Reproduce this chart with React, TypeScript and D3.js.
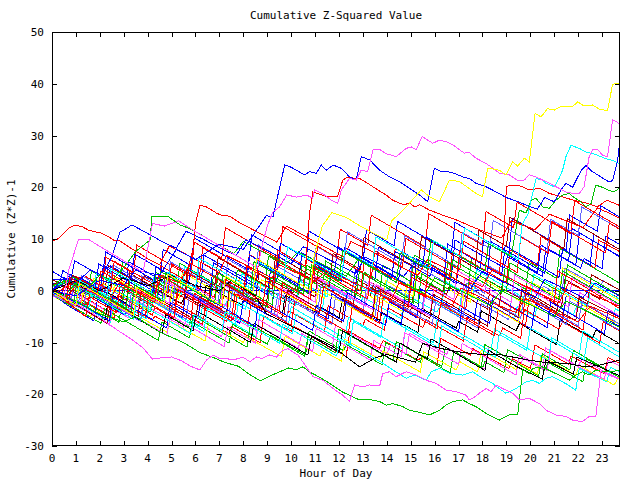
import React from "react";
import * as d3 from "d3";

type P = [number, number];

const title = "Cumulative Z-Squared Value";
const xLabel = "Hour of Day";
const yLabel = "Cumulative (Z*Z)-1";
const xTicks = [0,1,2,3,4,5,6,7,8,9,10,11,12,13,14,15,16,17,18,19,20,21,22,23];
const yTicks = [-30,-20,-10,0,10,20,30,40,50];
const xMax = 23.75;

const RED = "#ff0000", GRN = "#00c000", BLU = "#0000ff", MAG = "#ff50ff", CYN = "#00ffff",
  DRD = "#a00000", YEL = "#ffff00", BLK = "#000000", PER = "#6464ff";

// traced prominent series
const yellowTop: P[] = [[0,0],[1,-2.8],[1.15,1.4],[2.3,-1.7],[3.4,-4.7],[3.55,0.6],[4.7,-2.5],[4.85,3.2],[6,0.1],[7.1,-2.9],[7.25,2.8],[8.4,-0.3],[8.55,6.2],[9.7,3.1],[10.8,0.1],[10.95,6.5],[11.3,12.5],[11.7,15.1],[12.3,14.2],[12.7,13],[13.4,11.2],[14,9.8],[14.2,13.5],[14.5,14.8],[14.81,16.2],[15.44,19.5],[15.78,18.2],[16.2,17.2],[16.62,21.4],[17.04,21.1],[17.73,18.8],[18,18.2],[18.22,23.7],[18.7,23.3],[18.98,22.4],[19.26,24.9],[19.47,24.1],[19.75,25.6],[19.96,24.9],[20.2,34.3],[20.45,33.6],[20.72,35.2],[21,34.9],[21.28,35.6],[21.77,35.6],[21.98,36.5],[22.25,35.7],[22.6,35.9],[22.88,35.1],[23.23,34.8],[23.44,39.9],[23.72,40.1]];
const magentaTop: P[] = [[0,0],[0.5,-1.2],[0.7,4],[1.1,9.8],[1.5,10],[2.2,8],[3,5.8],[3.8,3.6],[4,8],[4.2,13],[4.7,12.5],[5.3,13.5],[5.9,11.7],[6.6,9.8],[7.3,7.9],[8,6],[8.6,4.4],[8.8,9],[9,12.5],[9.23,15.2],[9.52,16.2],[9.81,18.5],[10.23,18.1],[10.65,18.5],[10.9,17.9],[10.98,19.5],[11.4,18.5],[11.68,17.5],[11.95,16.9],[12.1,19.5],[12.44,21.7],[12.72,21.4],[12.93,23.3],[13.2,23],[13.42,27.2],[13.7,27.3],[13.97,26.5],[14.39,25.9],[14.81,27.5],[15.02,27.8],[15.23,27.3],[15.48,29.8],[15.71,29.1],[15.92,28.5],[16.2,29.1],[16.48,28.8],[16.76,28.2],[16.96,27.5],[17.24,26.6],[17.45,26.7],[17.73,25.6],[18.15,24.6],[18.43,23.7],[18.71,22.7],[19.12,22.4],[19.47,21.3],[19.75,21.4],[19.96,22.4],[20.24,22],[20.51,21.4],[20.79,20.8],[21.07,20.1],[21.49,19.1],[21.77,18.8],[22.05,18.8],[22.25,20.1],[22.46,25.9],[22.6,27.2],[22.81,27.3],[23.02,26.2],[23.23,25.9],[23.44,33],[23.58,32.7],[23.72,32.3]];
const blueTop: P[] = [[0,0],[1,-1],[2,2],[3,1],[3.5,4],[4.5,3],[5.2,8],[6,6],[7,9],[8,8],[8.96,14.5],[9.24,14.3],[9.73,24.3],[9.94,24],[10.22,23.3],[10.56,22.4],[10.77,23],[11.05,22.7],[11.26,24.3],[11.47,23.3],[11.75,24.3],[12.1,23.65],[12.44,22],[12.72,21.4],[12.93,25.9],[13.28,25.3],[13.7,23.3],[14.11,22],[14.53,21.1],[14.95,19.8],[15.37,18.5],[15.71,17.2],[15.99,23.65],[16.27,23],[16.55,23],[16.83,22.7],[17.17,22],[17.45,21.7],[17.73,20.75],[18.15,20.1],[18.57,19.1],[19,18],[19.5,17.2],[20,16.2],[20.3,15.8],[20.6,18],[21,17.2],[21.33,19.8],[21.49,20.75],[21.77,20],[22.12,23.2],[22.33,24.2],[22.54,23.2],[22.88,22.2],[23.3,21],[23.44,21.3],[23.65,25.2],[23.72,28]];
const redHigh: P[] = [[0,0],[0.6,-1.7],[0.75,2.5],[1.9,-0.6],[2.05,3.8],[3.2,0.7],[4.3,-2.3],[4.45,3.1],[5.6,0],[5.75,5.4],[6.9,2.3],[8,-0.7],[8.15,4.6],[9.3,1.5],[9.45,7.8],[10.6,4.7],[10.77,15],[10.91,19.1],[11.47,18.2],[11.95,18.3],[12.16,21.4],[12.37,22],[12.65,21.7],[12.86,21.7],[13.2,20.75],[13.62,19.5],[13.97,18.5],[14.25,17.5],[14.53,16.9],[14.74,16.6],[14.95,17],[15.16,16.2],[15.37,16.6],[15.78,15.6],[16.34,14.6],[16.9,13.7],[17.5,12.5],[18.2,11.2],[18.8,10.2],[19.2,13.5],[19.6,12.8],[20.2,11.8],[20.8,14.8],[21.5,13.5],[22.2,12.2],[22.8,16],[23.3,15],[23.72,14]];
const redStart: P[] = [[0,9.5],[0.28,10.1],[0.56,11.4],[0.7,12.1],[0.97,12.7],[1.25,12.4],[1.53,11.7],[1.81,11.4],[2.09,11.1],[2.37,10.4],[2.58,9.8],[2.78,9.8],[3.2,8.5],[3.6,7.4],[4,6.2],[4.5,5],[4.9,8.6],[5.5,7.3],[6,6],[6.5,4.8],[7,3.5],[7.3,6.8],[8,5.2],[8.6,3.8],[9.2,2.5],[9.5,5],[10.2,3.5],[11,1.8],[11.5,4],[12.3,2.2],[13,0.8],[13.6,-0.5],[14.2,-1.8],[14.5,1.5],[15.3,-0.2],[16,-1.8],[16.7,-3.2],[17.1,0.5],[17.8,-1],[18.6,-2.7],[19.4,-4.2],[19.8,-1.5],[20.5,-3],[21.3,-4.6],[22,-6],[22.5,-3],[23.2,-4.3],[23.72,-5.4]];
const magentaLow: P[] = [[0,0],[1,-2.5],[2,-5.2],[2.7,-7.5],[3.3,-9.3],[3.8,-11],[4.2,-13.2],[4.5,-13],[5,-12.8],[5.4,-13.5],[5.8,-14.6],[6.18,-15.3],[6.46,-13.4],[6.74,-12.4],[7,-13.1],[7.3,-13.1],[7.57,-13.4],[7.98,-12.8],[8.27,-13.7],[8.55,-12.8],[8.76,-13.1],[9.1,-12.4],[9.38,-12.8],[9.66,-11.5],[9.87,-11.2],[10.3,-12.5],[10.6,-14.5],[10.91,-16.6],[11.33,-17.3],[11.75,-18.9],[12.16,-20.2],[12.44,-21.4],[12.65,-18.2],[13,-18.6],[13.28,-18.2],[13.7,-18.4],[13.83,-16],[14.11,-15.65],[14.39,-16.6],[14.81,-15.65],[15.23,-16.3],[15.65,-17.3],[16.06,-17.9],[16.48,-19.2],[16.9,-19.5],[17.32,-20.2],[17.45,-21.1],[17.59,-20.8],[17.87,-19.8],[18.15,-18.9],[18.36,-19.5],[18.57,-18.2],[18.84,-18.9],[19.26,-19.8],[19.54,-21.1],[19.96,-20.8],[20.38,-21.8],[20.66,-23.1],[21.07,-24],[21.49,-24.3],[21.77,-25],[22.18,-25.3],[22.46,-24.3],[22.74,-24.3],[22.95,-15.6],[23.3,-16.3],[23.72,-17.1]];
const greenLow: P[] = [[0,0],[1,-2],[2,-4.5],[3,-6],[3.5,-5],[4.5,-8],[5.5,-10],[6.2,-12],[6.7,-12.8],[7.2,-13.8],[7.8,-14.6],[8.2,-16],[8.7,-17.4],[9.1,-16.5],[9.5,-15.7],[9.9,-14.9],[10.2,-15.3],[10.49,-14.7],[10.77,-15.7],[11.19,-16.7],[11.61,-17.9],[12.16,-19.6],[12.58,-20.5],[12.86,-21.1],[13.28,-21],[13.7,-21.4],[13.98,-22.1],[14.25,-21.8],[14.67,-22.4],[14.95,-23.1],[15.29,-23.4],[15.78,-24],[16.2,-23.1],[16.48,-22.1],[16.76,-21.4],[17.17,-21.1],[17.45,-21.8],[17.73,-22.4],[18.15,-23.7],[18.57,-24.7],[18.7,-25],[19.12,-24],[19.47,-24],[19.68,-15.3],[19.96,-16],[20.1,-15],[20.5,-14.7],[20.9,-15.65],[21.35,-16.6],[21.63,-17.3],[21.9,-16.3],[22.18,-15.65],[22.46,-16.3],[22.74,-15.3],[23.02,-15.65],[23.44,-15.65],[23.72,-15.3]];
const cyanLow: P[] = [[0,0],[1,-2.8],[1.15,0.6],[2.3,-2.5],[3.4,-5.5],[3.55,-2.2],[4.7,-5.3],[5.8,-8.3],[5.95,-4.6],[7.1,-7.7],[7.25,-4],[8.4,-7.1],[9.5,-10.1],[9.65,-6.5],[10.8,-9.6],[11.9,-12.6],[12.05,-9.2],[13.2,-12.3],[13.83,-14],[14.25,-15.3],[14.81,-16.9],[15.16,-16.3],[15.65,-17.3],[15.86,-15.65],[16.2,-15],[16.62,-15.95],[17.17,-16.3],[17.59,-15.65],[18,-16.9],[18.42,-17.9],[18.7,-18.9],[18.98,-19.8],[19.4,-18.9],[19.82,-17.6],[20.1,-17.3],[20.38,-17.9],[20.66,-16.9],[20.93,-16.6],[21.5,-18],[21.9,-19.2],[22.05,-15],[22.7,-16.5],[23.2,-17.6],[23.35,-14.8],[23.72,-15.6]];
const cyanTop: P[] = [[0,0],[1,-2.8],[1.15,2],[2.3,-1.1],[2.45,4.2],[3.6,1.1],[4.7,-1.9],[4.85,3.6],[6,0.5],[6.15,6.3],[7.3,3.2],[8.4,0.2],[8.55,5.8],[9.7,2.7],[9.85,8.5],[11,5.4],[12.1,2.4],[12.25,7.9],[13.4,4.8],[13.55,10.4],[14.7,7.3],[15.8,4.3],[15.95,9.7],[17.1,6.6],[17.25,12.1],[18.4,9],[19.5,6],[19.65,12.8],[19.9,14.8],[20.03,17.5],[20.24,21.7],[20.5,21.4],[20.66,20.75],[21,20.1],[21.2,21.7],[21.35,23.3],[21.49,25.9],[21.7,28.1],[22.05,27.5],[22.33,26.8],[22.6,26.5],[22.81,26.2],[23.1,25.6],[23.44,25.2],[23.72,24.6]];
const greenTop: P[] = [[0,0],[0.9,-2.5],[1.05,1.8],[2.2,-1.3],[3.3,-4.3],[3.45,1.1],[4.6,-2],[4.75,3.5],[5.9,0.4],[7,-2.6],[7.15,2.9],[8.3,-0.2],[8.45,5.6],[9.6,2.5],[10.7,-0.5],[10.85,5],[12,1.9],[12.15,7.7],[13.3,4.6],[14.4,1.6],[14.55,7.3],[15.7,4.2],[15.85,9.9],[17,6.8],[18.1,3.8],[18.25,9.1],[19.2,6.6],[19.47,13.7],[19.54,15.6],[19.82,15],[20.03,17.5],[20.24,17.9],[20.52,16.2],[20.8,15.95],[21.07,17.5],[21.35,18.5],[21.63,18.8],[21.77,18.2],[22.12,17.2],[22.33,16.2],[22.54,16.9],[22.74,20.4],[22.95,20.1],[23.23,19.5],[23.5,19.1],[23.72,19.8]];
const redRight: P[] = [[0,0],[1,-2.8],[1.15,1.5],[2.3,-1.6],[3.4,-4.6],[3.55,0.5],[4.7,-2.6],[5.8,-5.6],[5.95,-0.5],[7.1,-3.6],[7.25,2.2],[8.4,-0.9],[9.5,-3.9],[9.65,1.5],[10.8,-1.6],[10.95,4.5],[12.1,1.4],[13.2,-1.6],[13.35,4.9],[14.5,1.8],[15.6,-1.2],[15.75,5.2],[16.9,2.1],[17.05,7.8],[18.2,4.7],[18.7,3.4],[18.9,10.5],[19,20.1],[19.12,20.4],[19.5,20.4],[19.96,19.5],[20.4,19.8],[20.8,18.8],[21.3,18.2],[21.8,17.5],[22.3,17],[22.8,16.2],[23.2,17.5],[23.72,16.5]];
const blackLow: P[] = [[0,0],[1,2],[2,0],[3,2.5],[4,1],[5,3],[6,1],[7,0],[7.5,2],[8.5,-1],[8.96,-4.4],[10.35,-7.6],[11.75,-10.8],[12.86,-14.7],[13.5,-13],[14,-12.3],[14.55,-13],[15.2,-13.8],[15.5,-10.2],[16.3,-11.2],[17,-11.8],[17.9,-12.3],[18.7,-12.3],[19.8,-13.3],[20.66,-13.9],[21.5,-14],[22.3,-14.7],[22.88,-14.4],[23.72,-13.4]];
const greenEarly: P[] = [[0,0],[0.5,-1.2],[1,1.5],[1.5,0.5],[2,3],[2.5,2],[3,4.5],[3.5,7.6],[4.1,9.8],[4.18,14.3],[4.87,14.3],[5.36,12.7],[5.71,12.1],[6.13,11.1],[6.6,9.8],[7.1,8.5],[7.6,7.2],[8,9.5],[8.6,8],[9.2,6.6],[9.8,5.2],[10.3,7.5],[11,5.8],[11.7,4.2],[12.3,2.8],[12.8,6],[13.5,4.3],[14.2,2.6],[15,0.8],[15.6,-0.6],[16,2.5],[16.8,0.6],[17.6,-1.2],[18.3,-2.8],[18.8,0],[19.5,-1.6],[20.3,-3.4],[21,-5],[21.5,-2],[22.3,-3.8],[23,-5.4],[23.72,-7]];
const blueEarly: P[] = [[0,0],[0.5,2.5],[1,1.5],[1.6,4],[2.1,3],[2.5,6.5],[2.85,11.4],[3,11.7],[3.34,12.7],[3.59,12.1],[4.1,10.8],[4.6,9.5],[5.2,8.2],[5.6,11.5],[6.3,10],[7,8.3],[7.7,6.8],[8.1,9.8],[8.8,8.2],[9.4,6.8],[10,5.2],[10.5,8.5],[11.2,6.9],[12,5],[12.7,3.3],[13.1,6.5],[13.9,4.6],[14.7,2.8],[15.2,5.5],[16,3.8],[16.8,2],[17.5,0.4],[18,3.8],[18.7,2.1],[19.5,0.3],[20.2,-1.3],[20.6,2.2],[21.4,0.5],[22.2,-1.3],[22.7,1.5],[23.72,-1]];
const redEarly: P[] = [[0,0],[0.6,-1.5],[1,1],[1.8,-0.5],[2.4,-2],[2.8,1.5],[3.5,0],[4.2,-1.5],[4.6,3],[5.3,1.5],[5.7,4.5],[5.9,8],[6,13],[6.18,16.5],[6.46,16.2],[6.88,15],[7.08,14.6],[7.43,14.4],[7.9,13],[8.4,11.8],[8.9,10.6],[9.4,9.4],[9.8,12.5],[10.4,11],[11,9.5],[11.6,8],[12.2,6.5],[12.5,9.5],[13.2,8],[13.9,6.3],[14.6,4.6],[15.3,3],[15.7,6],[16.4,4.5],[17.2,2.6],[18,0.8],[18.4,4],[19.1,2.5],[19.8,0.8],[20.5,-0.8],[21.2,-2.4],[21.6,1.5],[22.4,-0.2],[23.1,-1.8],[23.72,-3]];
const zeroLine: P[] = [[0,0],[23.72,0]];

// background series
const bg01: P[] = [[0,-0.8],[0.4,-1.6],[0.5,0.9],[0.9,0.2],[1.3,-1.1],[1.7,-2.2],[2.3,-3.9],[2.45,-1],[2.9,-2.1],[3.5,-3.8],[4.2,-5.7],[4.3,-4.9],[4.9,-6.4],[5.05,-2.2],[5.6,-3.6],[6.2,-5.1],[6.8,-6.9],[7.4,-8.3],[7.5,-6.9],[8.1,-8.5],[8.7,-10],[8.85,-4.8],[9.5,-6.6],[10,-7.8],[10.1,-6.8],[10.8,-8.7],[11.6,-10.9],[12.3,-12.7],[12.45,-7.9],[13.2,-9.9],[13.7,-11.1],[13.85,-9.6],[14.6,-11.6],[15.3,-13.4],[15.5,-12.8],[16.1,-14.3],[16.25,-9.2],[17,-11.1],[17.5,-12.5],[17.6,-11.2],[18.4,-13.3],[19.1,-15],[19.25,-13.1],[20,-15],[20.2,-10.5],[21,-12.6],[21.6,-14.2],[21.7,-12.6],[22.5,-14.6],[23.1,-16],[23.25,-12.9],[23.72,-14]];
const bg02: P[] = [[0,0],[0.6,-1.5],[1.2,-3],[1.3,-2.1],[2,-3.9],[2.8,-6.1],[2.95,-1.1],[3.6,-2.8],[4.1,-4.1],[4.2,-3],[5,-5.2],[5.7,-7],[5.8,-5.8],[6.6,-8],[7.4,-10.1],[7.55,-6.5],[8.2,-8.2],[9,-10.3],[9.15,-8.6],[9.9,-10.6],[10.6,-12.4],[10.75,-7.8],[11.4,-9.5],[12.2,-11.6],[12.3,-10.4],[13,-12.2],[13.8,-14.3],[13.95,-10],[14.7,-12],[15.4,-13.8],[15.5,-12.5],[16.3,-14.6],[16.45,-10.9],[17.2,-12.8],[18,-14.9],[18.1,-13.7],[18.9,-15.8],[19.05,-11.4],[19.8,-13.3],[20.6,-15.4],[20.75,-13.9],[21.5,-15.8],[22.2,-17.6],[22.35,-13.2],[23,-14.9],[23.72,-16.7]];
const bg03: P[] = [[0,1.5],[0.3,0.8],[0.45,3.9],[1.1,2.2],[1.8,0.4],[2.3,-0.9],[2.4,2.7],[3.1,0.9],[3.2,5.6],[3.9,3.8],[4.6,2],[5.4,-0.1],[5.55,1.8],[6.2,0.1],[6.35,6.9],[7,5.2],[7.8,3.1],[8.5,1.3],[8.65,3.8],[9.4,1.9],[9.5,7.3],[10.3,5.2],[10.9,3.6],[11.05,5.5],[11.8,3.6],[12.6,1.5],[12.7,4.1],[13.5,2],[13.65,8.4],[14.3,6.7],[15.1,4.6],[15.8,2.8],[15.95,4.8],[16.7,2.9],[16.85,9.8],[17.5,8.1],[18.3,6],[18.9,4.5],[19.05,6.6],[19.8,4.6],[20.5,2.8],[20.65,8.2],[21.3,6.5],[22.1,4.4],[22.25,6.2],[23,4.3],[23.15,10.5],[23.72,9]];
const bg04: P[] = [[0,-0.5],[0.7,-2.3],[0.85,-0.2],[1.6,-2.1],[2.4,-4.2],[2.5,-3.4],[3.2,-5.2],[3.35,-1.4],[4,-3.1],[4.9,-5.4],[5.5,-7],[5.65,-5.1],[6.4,-7],[7.1,-8.9],[7.25,-4.4],[7.9,-6.1],[8.6,-7.9],[8.7,-6.9],[9.5,-9],[10.3,-11.1],[10.45,-8.3],[11.2,-10.2],[11.7,-11.5],[11.85,-6.6],[12.5,-8.3],[13.3,-10.4],[14,-12.2],[14.15,-10.5],[14.8,-12.2],[14.95,-8.2],[15.7,-10.2],[16.5,-12.3],[16.6,-11.2],[17.3,-13],[18.1,-15.1],[18.25,-10.8],[19,-12.8],[19.6,-14.3],[19.7,-13],[20.5,-15.1],[20.65,-11.1],[21.4,-13],[22,-14.6],[22.15,-13.2],[23,-15.4],[23.72,-17]];
const bg05: P[] = [[0,0.4],[0.5,-0.9],[1,-2.2],[1.15,2.6],[1.8,0.9],[2.5,-0.9],[2.6,0.3],[3.4,-1.8],[4.1,-3.6],[4.25,-1.8],[5,-3.7],[5.15,2.2],[5.8,0.5],[6.5,-1.3],[7.2,-3.1],[7.35,-1.6],[8.1,-3.6],[8.25,1.6],[8.9,-0.1],[9.7,-2.2],[9.85,0],[10.6,-2],[11.3,-3.8],[11.45,1.3],[12.1,-0.4],[12.9,-2.5],[13,-1.2],[13.8,-3.3],[14.6,-5.4],[14.75,-0.6],[15.4,-2.3],[16.1,-4.1],[16.25,-2.9],[17,-4.9],[17.15,0.2],[17.9,-1.8],[18.6,-3.6],[19.3,-5.4],[19.45,-3.1],[20.2,-5],[20.35,-0.8],[21.1,-2.8],[21.8,-4.6],[21.95,-2.8],[22.7,-4.8],[23.4,-6.6],[23.55,-3.5],[23.72,-3.9]];
const bg06: P[] = [[0,2.2],[0.6,0.6],[1.3,-1.2],[1.45,1.4],[2.2,-0.6],[2.35,4.8],[3,3.1],[3.7,1.3],[3.85,2.9],[4.6,1],[5.4,-1.1],[5.55,3.8],[6.2,2.1],[6.9,0.3],[7.05,1.7],[7.8,-0.3],[8.5,-2.1],[8.65,3.4],[9.3,1.7],[10.1,-0.4],[10.2,0.9],[11,-1.2],[11.15,4.6],[11.8,2.9],[12.6,0.8],[13.3,-1],[13.45,1.3],[14.2,-0.7],[14.9,-2.5],[15.05,3.1],[15.7,1.4],[16.5,-0.7],[16.6,0.7],[17.4,-1.4],[18.2,-3.5],[18.35,1.7],[19,0],[19.7,-1.8],[19.85,0.6],[20.6,-1.4],[21.3,-3.2],[21.45,2.2],[22.1,0.5],[22.9,-1.6],[23.05,0.2],[23.72,-1.5]];
const bg07: P[] = [[0,-0.9],[0.8,-3],[1.6,-5.1],[1.75,-3.6],[2.5,-5.6],[2.65,-2.4],[3.3,-4.1],[4.1,-6.2],[4.8,-8],[4.95,-5.9],[5.7,-7.9],[6.4,-9.7],[6.55,-6.2],[7.2,-7.9],[8,-10],[8.1,-8.8],[8.9,-10.9],[9.6,-12.7],[9.75,-8.8],[10.4,-10.5],[11.2,-12.6],[11.3,-11.5],[12.1,-13.6],[12.25,-9.4],[13,-11.4],[13.7,-13.2],[13.85,-11.6],[14.6,-13.6],[15.4,-15.7],[15.55,-11.8],[16.2,-13.5],[16.9,-15.3],[17.05,-13.7],[17.8,-15.7],[17.95,-11.4],[18.6,-13.1],[19.4,-15.2],[19.5,-14],[20.3,-16.1],[20.45,-12.5],[21.2,-14.5],[21.9,-16.3],[22.05,-14.4],[22.8,-16.4],[23.5,-18.2],[23.72,-16.6]];
const bg08: P[] = [[0,0.6],[0.6,-1],[0.75,2.1],[1.5,0.1],[2.2,-1.7],[2.35,-0.4],[3.1,-2.4],[3.25,3.1],[3.9,1.4],[4.7,-0.7],[5.4,-2.5],[5.55,-1],[6.3,-3],[6.45,1.1],[7.2,-0.9],[7.9,-2.7],[8.05,-1.5],[8.8,-3.5],[9.6,-5.6],[9.75,-0.9],[10.4,-2.6],[11.1,-4.4],[11.25,-3.2],[12,-5.2],[12.15,-1.6],[12.9,-3.6],[13.7,-5.7],[13.8,-4.2],[14.6,-6.3],[15.3,-8.1],[15.45,-3.4],[16.1,-5.1],[16.9,-7.2],[17,-5.9],[17.8,-8],[17.95,-3.9],[18.7,-5.9],[19.4,-7.7],[19.55,-6.3],[20.3,-8.3],[21.1,-10.4],[21.25,-5.6],[21.9,-7.3],[22.6,-9.1],[22.75,-7.6],[23.72,-10.2]];
const bg09: P[] = [[0,-0.3],[0.5,-1.4],[0.65,3.2],[1.2,1.8],[2,-0.3],[2.1,1.1],[2.9,-1],[3.6,-2.8],[3.75,2.9],[4.4,1.2],[5.1,-0.6],[5.25,0.8],[6,-1.2],[6.15,4.6],[6.8,2.9],[7.6,0.8],[8.3,-1],[8.45,1.3],[9.2,-0.7],[9.35,4.9],[10,3.2],[10.8,1.1],[10.9,2.5],[11.7,0.4],[12.5,-1.7],[12.65,2.9],[13.3,1.2],[14,-0.6],[14.15,0.8],[14.9,-1.2],[15.05,5.3],[15.7,3.6],[16.5,1.5],[17.2,-0.3],[17.35,1.5],[18.1,-0.5],[18.25,4.8],[18.9,3.1],[19.7,1],[20.4,-0.8],[20.55,0.9],[21.3,-1.1],[21.45,4.4],[22.1,2.7],[22.9,0.6],[23.05,1.9],[23.72,0.2]];
const bg10: P[] = [[0,-0.7],[0.9,-3],[1.05,-1.2],[1.8,-3.2],[2.6,-5.3],[2.75,-0.9],[3.4,-2.6],[4.2,-4.7],[4.3,-3.3],[5.1,-5.4],[5.25,-0.6],[5.9,-2.3],[6.6,-4.1],[7.3,-5.9],[7.45,-4.3],[8.2,-6.3],[8.35,-1.3],[9,-3],[9.8,-5.1],[9.9,-3.9],[10.7,-6],[11.4,-7.8],[11.55,-2.9],[12.2,-4.6],[13,-6.7],[13.1,-5.5],[13.9,-7.6],[14.05,-3.3],[14.8,-5.3],[15.5,-7.1],[15.65,-5.6],[16.4,-7.6],[17.2,-9.7],[17.35,-5.2],[18,-6.9],[18.7,-8.7],[18.85,-7.2],[19.6,-9.2],[19.75,-3.6],[20.5,-5.6],[21.2,-7.4],[21.35,-6],[22.1,-8],[22.9,-10.1],[23.05,-6],[23.72,-7.7]];
const bg11: P[] = [[0,1],[0.4,2.2],[1.5,-0.8],[1.65,3.8],[2.8,0.7],[2.95,5.6],[4.1,2.5],[5.2,-0.5],[5.35,5.3],[6.5,2.2],[7.6,-0.8],[7.75,4],[8.9,0.9],[9.05,6.7],[10.2,3.6],[11.3,0.6],[11.45,5.7],[12.6,2.6],[13.7,-0.4],[13.85,4.9],[15,1.8],[15.15,6.9],[16.3,3.8],[17.4,0.8],[17.55,6.4],[18.7,3.3],[19.8,0.3],[19.95,5.5],[21.1,2.4],[21.25,8.2],[22.4,5.1],[23.72,1.5]];
const bg12: P[] = [[0,3.8],[1,1],[1.15,2.6],[2.3,-0.5],[2.45,4.8],[3.6,1.7],[4.7,-1.3],[4.85,3.2],[6,0.1],[6.15,6.3],[7.3,3.2],[8.4,0.2],[8.55,5.6],[9.7,2.5],[10.8,-0.5],[10.95,4.9],[12.1,1.8],[12.25,8.4],[13.4,5.3],[14.5,2.3],[14.65,7.5],[15.8,4.4],[16.9,1.4],[17.05,6.2],[18.2,3.1],[18.35,9.5],[19.5,6.4],[20.6,3.4],[20.75,8.1],[21.9,5],[22.05,11.2],[23.72,6.7]];
const bg13: P[] = [[0,-0.2],[1.2,-2.2],[1.35,1.7],[2.5,-1.4],[3.6,-4.4],[3.75,0.7],[4.9,-2.4],[5.05,3.1],[6.2,0],[7.3,-3],[7.45,1.6],[8.6,-1.5],[9.7,-4.5],[9.85,0.9],[11,-2.2],[11.15,2.5],[12.3,-0.6],[13.4,-3.6],[13.55,1.2],[14.7,-1.9],[15.8,-4.9],[15.95,0.1],[17.1,-3],[17.25,2.3],[18.4,-0.8],[19.5,-3.8],[19.65,1.1],[20.8,-2],[21.9,-5],[22.05,-0.3],[23.2,-3.4],[23.72,-4.8]];
const bg14: P[] = [[0,0],[1.35,-3.1],[2.45,-6.1],[2.6,-2.2],[3.75,-5.3],[3.9,-0.9],[5.05,-4],[6.15,-7],[6.3,-2.8],[7.45,-5.9],[8.55,-8.9],[8.7,-4.5],[9.85,-7.6],[10,-3.1],[11.15,-6.2],[12.25,-9.2],[12.4,-5.1],[13.55,-8.2],[14.65,-11.2],[14.8,-6.9],[15.95,-10],[16.1,-5.6],[17.25,-8.7],[18.35,-11.7],[18.5,-7.4],[19.65,-10.5],[20.75,-13.5],[20.9,-9.1],[22.05,-12.2],[22.2,-7.8],[23.72,-11.9]];
const bg15: P[] = [[0,1.2],[0.6,1.9],[1.7,-1.1],[2.8,-4.1],[2.95,0.3],[4.1,-2.8],[4.25,2.6],[5.4,-0.5],[6.5,-3.5],[6.65,1.8],[7.8,-1.3],[8.9,-4.3],[9.05,0.2],[10.2,-2.9],[10.35,3.6],[11.5,0.5],[12.6,-2.5],[12.75,2.2],[13.9,-0.9],[15,-3.9],[15.15,0.6],[16.3,-2.5],[16.45,3.3],[17.6,0.2],[18.7,-2.8],[18.85,2],[20,-1.1],[21.1,-4.1],[21.25,0.5],[22.4,-2.6],[22.55,3.1],[23.72,0.2]];
const bg16: P[] = [[0,-0.4],[0.5,1.5],[1.6,-1.5],[1.75,2.4],[2.9,-0.7],[4,-3.7],[4.15,1.4],[5.3,-1.7],[5.45,3.6],[6.6,0.5],[7.7,-2.5],[7.85,2.4],[9,-0.7],[9.15,4.6],[10.3,1.5],[11.4,-1.5],[11.55,3.7],[12.7,0.6],[13.8,-2.4],[13.95,2],[15.1,-1.1],[15.25,3.9],[16.4,0.8],[17.5,-2.2],[17.65,3.2],[18.8,0.1],[19.9,-2.9],[20.05,1.7],[21.2,-1.4],[21.35,4.4],[22.5,1.3],[23.72,-1.9]];
const bg17: P[] = [[0,0.6],[0.9,2.6],[2,-0.4],[2.15,4.1],[3.3,1],[4.4,-2],[4.55,4.8],[5.7,1.7],[6.8,-1.3],[6.95,4.2],[8.1,1.1],[8.25,7],[9.4,3.9],[10.5,0.9],[10.65,6.1],[11.8,3],[12.9,0],[13.05,5.5],[14.2,2.4],[14.35,8.2],[15.5,5.1],[16.6,2.1],[16.75,7.6],[17.9,4.5],[19,1.5],[19.15,7.9],[20.3,4.8],[20.45,10.5],[21.6,7.4],[22.7,4.4],[22.85,9.8],[23.72,7.6]];
const bg18: P[] = [[0,-0.6],[0.65,-2.8],[1.75,-5.8],[1.9,-1.6],[3.05,-4.7],[3.2,0.9],[4.35,-2.2],[5.45,-5.2],[5.6,-0.2],[6.75,-3.3],[7.85,-6.3],[8,-1.9],[9.15,-5],[9.3,0.7],[10.45,-2.4],[11.55,-5.4],[11.7,-0.6],[12.85,-3.7],[13.95,-6.7],[14.1,-2.1],[15.25,-5.2],[15.4,0.4],[16.55,-2.7],[17.65,-5.7],[17.8,-1.3],[18.95,-4.4],[20.05,-7.4],[20.2,-2.6],[21.35,-5.7],[21.5,-0.9],[23.72,-6.9]];
const bg19: P[] = [[0,-0.8],[0.95,-3.3],[2.05,-6.3],[2.2,-3.5],[3.35,-6.6],[4.45,-9.6],[4.6,-6],[5.75,-9.1],[5.9,-4.8],[7.05,-7.9],[8.15,-10.9],[8.3,-6.5],[9.45,-9.6],[10.55,-12.6],[10.7,-8.9],[11.85,-12],[12,-7.4],[13.15,-10.5],[14.25,-13.5],[14.4,-9.8],[15.55,-12.9],[16.65,-15.9],[16.8,-11.6],[17.95,-14.7],[18.1,-10.4],[19.25,-13.5],[20.35,-16.5],[20.5,-12.2],[21.65,-15.3],[21.8,-11.5],[23.72,-16.7]];
const bg20: P[] = [[0,0.2],[0.8,-2.2],[0.95,2.3],[2.1,-0.8],[3.2,-3.8],[3.35,0.6],[4.5,-2.5],[5.6,-5.5],[5.75,-0.8],[6.9,-3.9],[7.05,1.5],[8.2,-1.6],[9.3,-4.6],[9.45,-0.4],[10.6,-3.5],[11.7,-6.5],[11.85,-1.2],[13,-4.3],[13.15,0.8],[14.3,-2.3],[15.4,-5.3],[15.55,-1.1],[16.7,-4.2],[17.8,-7.2],[17.95,-2.5],[19.1,-5.6],[19.25,-0.4],[20.4,-3.5],[21.5,-6.5],[21.65,-2],[22.8,-5.1],[23.72,-7.6]];
const bg21: P[] = [[0,-0.9],[1.3,-3.6],[2.4,-6.6],[2.55,-2.5],[3.7,-5.6],[4.8,-8.6],[4.95,-4.7],[6.1,-7.8],[7.2,-10.8],[7.35,-7],[8.5,-10.1],[8.65,-5.6],[9.8,-8.7],[10.9,-11.7],[11.05,-7.3],[12.2,-10.4],[13.3,-13.4],[13.45,-9.6],[14.6,-12.7],[14.75,-8.1],[15.9,-11.2],[17,-14.2],[17.15,-10.2],[18.3,-13.3],[19.4,-16.3],[19.55,-12.3],[20.7,-15.4],[20.85,-11.6],[22,-14.7],[23.1,-17.1],[23.25,-13.4],[23.72,-14.5]];
const bg22: P[] = [[0,0.8],[0.6,1.7],[1.7,-1.3],[1.85,3.4],[3,0.3],[4.1,-2.7],[4.25,2.5],[5.4,-0.6],[5.55,4.6],[6.7,1.5],[7.8,-1.5],[7.95,3.3],[9.1,0.2],[10.2,-2.8],[10.35,1.9],[11.5,-1.2],[11.65,4.2],[12.8,1.1],[13.9,-1.9],[14.05,3.3],[15.2,0.2],[16.3,-2.8],[16.45,1.8],[17.6,-1.3],[17.75,4],[18.9,0.9],[20,-2.1],[20.15,3.1],[21.3,0],[22.4,-3],[22.55,1.6],[23.72,-1.6]];
const bg23: P[] = [[0,0],[0.9,2.5],[2,-0.5],[2.15,5],[3.3,1.9],[3.45,7.1],[4.6,4],[5.7,1],[5.85,6.5],[7,3.4],[8.1,0.4],[8.25,6.9],[9.4,3.8],[9.55,9.2],[10.7,6.1],[11.8,3.1],[11.95,8.5],[13.1,5.4],[14.2,2.4],[14.35,7.6],[15.5,4.5],[15.65,10.4],[16.8,7.3],[17.9,4.3],[18.05,9.6],[19.2,6.5],[20.3,3.5],[20.45,8.8],[21.6,5.7],[21.75,12],[22.9,8.9],[23.72,6.6]];
const bg24: P[] = [[0,-0.5],[1.5,-2.8],[1.65,0.9],[2.8,-2.2],[3.9,-5.2],[4.05,-0.4],[5.2,-3.5],[6.3,-6.5],[6.45,-2.4],[7.6,-5.5],[7.75,-0.6],[8.9,-3.7],[10,-6.7],[10.15,-2],[11.3,-5.1],[12.4,-8.1],[12.55,-3.2],[13.7,-6.3],[13.85,-1.2],[15,-4.3],[16.1,-7.3],[16.25,-2.6],[17.4,-5.7],[18.5,-8.7],[18.65,-3.7],[19.8,-6.8],[19.95,-1.5],[21.1,-4.6],[22.2,-7.6],[22.35,-2.8],[23.5,-5.9],[23.72,-6.4]];
const bg25: P[] = [[0,-0.7],[1.1,-3],[2.2,-6],[2.35,-2.1],[3.5,-5.2],[4.6,-8.2],[4.75,-4.6],[5.9,-7.7],[6.05,-3.9],[7.2,-7],[8.3,-10],[8.45,-6.3],[9.6,-9.4],[10.7,-12.4],[10.85,-8.8],[12,-11.9],[12.15,-7.7],[13.3,-10.8],[14.4,-13.8],[14.55,-10.1],[15.7,-13.2],[15.85,-9.3],[17,-12.4],[18.1,-15.4],[18.25,-11.5],[19.4,-14.6],[20.5,-17.1],[20.65,-13.4],[21.8,-16.1],[21.95,-12.8],[23.72,-16.4]];
const bg26: P[] = [[0,0.3],[0.7,2],[1.8,-1],[2.9,-4],[3.05,0.8],[4.2,-2.3],[4.35,3.5],[5.5,0.4],[6.6,-2.6],[6.75,2.9],[7.9,-0.2],[9,-3.2],[9.15,2.5],[10.3,-0.6],[10.45,4.8],[11.6,1.7],[12.7,-1.3],[12.85,3.7],[14,0.6],[15.1,-2.4],[15.25,2.9],[16.4,-0.2],[16.55,5.6],[17.7,2.5],[18.8,-0.5],[18.95,4.4],[20.1,1.3],[21.2,-1.7],[21.35,3.8],[22.5,0.7],[23.72,-2.6]];
const bg27: P[] = [[0,-0.6],[1.2,-3.3],[1.35,0.8],[2.5,-2.3],[2.65,2.4],[3.8,-0.7],[4.9,-3.7],[5.05,0.9],[6.2,-2.2],[7.3,-5.2],[7.45,-0.1],[8.6,-3.2],[8.75,2.2],[9.9,-0.9],[11,-3.9],[11.15,0.4],[12.3,-2.7],[13.4,-5.7],[13.55,-1],[14.7,-4.1],[14.85,1.4],[16,-1.7],[17.1,-4.7],[17.25,0],[18.4,-3.1],[19.5,-6.1],[19.65,-1.5],[20.8,-4.6],[20.95,0.6],[22.1,-2.5],[23.2,-5.5],[23.72,-6.4]];
const bg28: P[] = [[0,-0.2],[0.5,-1.4],[0.65,2.9],[1.8,-0.2],[1.95,5.2],[3.1,2.1],[4.2,-0.9],[4.35,4.6],[5.5,1.5],[6.6,-1.5],[6.75,5.4],[7.9,2.3],[9,-0.7],[9.15,4.3],[10.3,1.2],[10.45,7.3],[11.6,4.2],[12.7,1.2],[12.85,6.6],[14,3.5],[15.1,0.5],[15.25,6.2],[16.4,3.1],[16.55,9],[17.7,5.9],[18.8,2.9],[18.95,8.7],[20.1,5.6],[21.2,2.6],[21.35,8.1],[22.5,5],[22.65,10.9],[23.72,8]];
const bg29: P[] = [[0,-0.9],[1.35,2.9],[2.45,-0.1],[2.6,5.7],[3.75,2.6],[4.85,-0.4],[5,5.2],[6.15,2.1],[6.3,8.3],[7.45,5.2],[8.55,2.2],[8.7,7.9],[9.85,4.8],[10.95,1.8],[11.1,8.6],[12.25,5.5],[13.35,2.5],[13.5,7.7],[14.65,4.6],[14.8,10.1],[15.95,7],[17.05,4],[17.2,9.6],[18.35,6.5],[19.45,3.5],[19.6,10.4],[20.75,7.3],[20.9,13.4],[22.05,10.3],[23.15,7.3],[23.3,13.1],[23.72,11.9]];
const bg30: P[] = [[0,0],[0.9,-2.5],[1.05,1.5],[2.2,-1.6],[3.3,-4.6],[3.45,0.5],[4.6,-2.6],[4.75,1.9],[5.9,-1.2],[7,-4.2],[7.15,1.2],[8.3,-1.9],[9.4,-4.9],[9.55,0.6],[10.7,-2.5],[10.85,3.1],[12,0],[13.1,-3],[13.25,1.8],[14.4,-1.3],[15.5,-4.3],[15.65,1.4],[16.8,-1.7],[16.95,3.9],[18.1,0.8],[19.2,-2.2],[19.35,3],[20.5,-0.1],[21.6,-3.1],[21.75,2.5],[22.9,-0.6],[23.72,-2.9]];
const bg31: P[] = [[0,-0.4],[1.55,-3.1],[1.7,0.7],[2.85,-2.4],[3.95,-5.4],[4.1,-1.8],[5.25,-4.9],[6.35,-7.9],[6.5,-3.4],[7.65,-6.5],[7.8,-2.2],[8.95,-5.3],[10.05,-8.3],[10.2,-4.5],[11.35,-7.6],[12.45,-10.6],[12.6,-5.9],[13.75,-9],[13.9,-4.9],[15.05,-8],[16.15,-11],[16.3,-6.8],[17.45,-9.9],[18.55,-12.9],[18.7,-8.4],[19.85,-11.5],[20,-7.2],[21.15,-10.3],[22.25,-13.3],[22.4,-9.1],[23.72,-12.8]];
const bg32: P[] = [[0,0.5],[1.2,-3.3],[2.3,-6.3],[2.45,-1.8],[3.6,-4.9],[3.75,0.4],[4.9,-2.7],[6,-5.7],[6.15,-1.2],[7.3,-4.3],[7.45,1.6],[8.6,-1.5],[9.7,-4.5],[9.85,0],[11,-3.1],[12.1,-6.1],[12.25,-1.9],[13.4,-5],[13.55,0.8],[14.7,-2.3],[15.8,-5.3],[15.95,-0.7],[17.1,-3.8],[18.2,-6.8],[18.35,-2.1],[19.5,-5.2],[19.65,0.3],[20.8,-2.8],[21.9,-5.8],[22.05,-1.2],[23.72,-5.1]];
const bg33: P[] = [[0,-0.3],[1.3,-2.8],[2.4,-5.8],[2.55,-1.1],[3.7,-4.2],[4.8,-7.2],[4.95,-2.3],[6.1,-5.4],[6.25,-0.8],[7.4,-3.9],[8.5,-6.9],[8.65,-1.6],[9.8,-4.7],[10.9,-7.7],[11.05,-2.8],[12.2,-5.9],[12.35,-0.4],[13.5,-3.5],[14.6,-6.5],[14.75,-1.8],[15.9,-4.9],[17,-7.9],[17.15,-3.2],[18.3,-6.3],[18.45,-1],[19.6,-4.1],[20.7,-7.1],[20.85,-2.2],[22,-5.3],[23.1,-8.3],[23.25,-3.8],[23.72,-5]];
const bg34: P[] = [[0,0.9],[0.9,2.6],[2,-0.4],[3.1,-3.4],[3.25,2.1],[4.4,-1],[4.55,3.7],[5.7,0.6],[6.8,-2.4],[6.95,3.4],[8.1,0.3],[9.2,-2.7],[9.35,2.5],[10.5,-0.6],[10.65,4.9],[11.8,1.8],[12.9,-1.2],[13.05,3.6],[14.2,0.5],[15.3,-2.5],[15.45,3.3],[16.6,0.2],[16.75,6],[17.9,2.9],[19,-0.1],[19.15,5.4],[20.3,2.3],[21.4,-0.7],[21.55,5],[22.7,1.9],[23.72,-0.9]];
const bg35: P[] = [[0,-0.8],[1.3,-3.6],[1.45,0.2],[2.6,-2.9],[3.7,-5.9],[3.85,-1],[5,-4.1],[5.15,1.3],[6.3,-1.8],[7.4,-4.8],[7.55,0.2],[8.7,-2.9],[9.8,-5.9],[9.95,-1.4],[11.1,-4.5],[11.25,1],[12.4,-2.1],[13.5,-5.1],[13.65,-0.3],[14.8,-3.4],[15.9,-6.4],[16.05,-1.8],[17.2,-4.9],[17.35,0.8],[18.5,-2.3],[19.6,-5.3],[19.75,-0.7],[20.9,-3.8],[22,-6.8],[22.15,-2.1],[23.72,-6.4]];
const bg36: P[] = [[0,0.1],[0.3,-0.9],[1.4,-5],[1.55,-1.1],[2.7,-4.2],[2.85,0.9],[4,-2.2],[5.1,-5.2],[5.25,0.3],[6.4,-2.8],[7.5,-5.8],[7.65,-0.6],[8.8,-3.7],[8.95,1.9],[10.1,-1.2],[11.2,-4.2],[11.35,0.8],[12.5,-2.3],[13.6,-5.3],[13.75,-0.1],[14.9,-3.2],[15.05,2.6],[16.2,-0.5],[17.3,-3.5],[17.45,1.6],[18.6,-1.5],[19.7,-4.5],[19.85,0.9],[21,-2.2],[21.15,3.8],[22.3,0.7],[23.72,-3.4]];
const hi1: P[] = [[0,2.2],[0.8,2.3],[0.95,5.8],[2.1,2.7],[2.25,7.5],[3.4,4.4],[4.5,1.4],[4.65,8],[5.8,4.9],[5.95,10.2],[7.1,7.1],[8.2,4.1],[8.35,10.8],[9.5,7.7],[10.6,4.7],[10.75,11.5],[11.9,8.4],[13,5.4],[13.15,11.8],[14.3,8.7],[14.45,13.4],[15.6,10.3],[16.7,7.3],[16.85,13.2],[18,10.1],[19.1,7.1],[19.25,14],[20.4,10.9],[21.5,7.9],[21.65,14.6],[22.8,11.5],[22.95,16.4],[23.72,14.3]];
const hi2: P[] = [[0,0.2],[1,2.8],[2.1,-0.2],[2.25,6.5],[3.4,3.4],[3.55,8.8],[4.7,5.7],[5.8,2.7],[5.95,9.4],[7.1,6.3],[7.25,12.2],[8.4,9.1],[9.5,6.1],[9.65,12.4],[10.8,9.3],[11.9,6.3],[12.05,11.9],[13.2,8.8],[13.35,14.6],[14.5,11.5],[15.6,8.5],[15.75,14.9],[16.9,11.8],[18,8.8],[18.15,15.3],[19.3,12.2],[19.45,17.1],[20.6,14],[21.7,11],[21.85,17.4],[23,14.3],[23.72,12.4]];
const hi3: P[] = [[0,-0.5],[1.1,-3],[1.25,2.9],[2.4,-0.2],[2.55,5],[3.7,1.9],[4.8,-1.1],[4.95,5.6],[6.1,2.5],[7.2,-0.5],[7.35,6.1],[8.5,3],[8.65,8.8],[9.8,5.7],[10.9,2.7],[11.05,8.6],[12.2,5.5],[12.35,11.4],[13.5,8.3],[14.6,5.3],[14.75,10.6],[15.9,7.5],[17,4.5],[17.15,11.3],[18.3,8.2],[18.45,13.6],[19.6,10.5],[20.7,7.5],[20.85,13.8],[22,10.7],[22.15,16.2],[23.72,12]];
const hi4: P[] = [[0,0.3],[0.7,-2],[0.85,3],[2,-0.1],[3.1,-3.1],[3.25,3.4],[4.4,0.3],[5.5,-2.7],[5.65,4.1],[6.8,1],[6.95,6.4],[8.1,3.3],[9.2,0.3],[9.35,6.9],[10.5,3.8],[11.6,0.8],[11.75,7.2],[12.9,4.1],[13.05,10.3],[14.2,7.2],[15.3,4.2],[15.45,10.5],[16.6,7.4],[17.7,4.4],[17.85,11.7],[19,8.6],[19.15,14.2],[20.3,11.1],[21.4,8.1],[21.55,13.9],[22.7,10.8],[23.72,8]];

const seriesData: P[][] = [
  zeroLine, bg01, bg02, bg03, bg04, bg05, bg06, bg07, bg08, bg09, bg10, bg11, bg12, hi1,
  bg13, bg14, bg15, bg16, bg17, bg18, hi2, bg19, bg20, bg21, bg22, bg23, bg24, hi3,
  bg25, bg26, bg27, bg28, bg29, bg30, hi4, bg31, bg32, bg33, bg34, bg35, bg36,
  redStart, greenEarly, blueEarly, redEarly, blackLow, cyanLow, greenLow, magentaLow,
  redRight, greenTop, cyanTop, redHigh, blueTop, magentaTop, yellowTop,
];
const seriesColors: string[] = [
  BLU, RED, GRN, BLU, MAG, CYN, DRD, YEL, BLK, PER, RED, GRN, BLU, BLU,
  MAG, CYN, DRD, YEL, RED, BLU, RED, GRN, PER, MAG, CYN, BLU, RED, PER,
  BLK, GRN, YEL, BLU, RED, MAG, DRD, CYN, DRD, BLU, GRN, PER, RED,
  RED, GRN, BLU, RED, BLK, CYN, GRN, MAG,
  RED, GRN, CYN, RED, BLU, MAG, YEL,
];

const L = 52, R = 620, T = 32, B = 446;
const FONT = "'DejaVu Sans Mono', monospace";

export default function App() {
  const x = d3.scaleLinear().domain([0, xMax]).range([L, R]);
  const y = d3.scaleLinear().domain([-30, 50]).range([B, T]);
  const line = d3.line<P>().x((d) => x(d[0])).y((d) => y(d[1]));
  return (
    <svg width={640} height={480} style={{ position: "absolute", left: 0, top: 0, background: "#fff" }}>
      <rect x={0} y={0} width={640} height={480} fill="#fff" />
      <defs>
        <clipPath id="plotclip">
          <rect x={L} y={T} width={R - L} height={B - T} />
        </clipPath>
      </defs>
      <g clipPath="url(#plotclip)" shapeRendering="crispEdges">
        {seriesData.map((s, i) => (
          <path key={i} d={line(s) || ""} fill="none" stroke={seriesColors[i]} strokeWidth={1} />
        ))}
      </g>
      <g shapeRendering="crispEdges" stroke="#000" strokeWidth={1}>
        <rect x={L + 0.5} y={T + 0.5} width={R - L - 1} height={B - T - 1} fill="none" />
        {xTicks.map((t) => (
          <g key={"xt" + t}>
            <line x1={Math.round(x(t)) + 0.5} x2={Math.round(x(t)) + 0.5} y1={B} y2={B - 5} />
            <line x1={Math.round(x(t)) + 0.5} x2={Math.round(x(t)) + 0.5} y1={T} y2={T + 5} />
          </g>
        ))}
        {yTicks.map((t) => (
          <g key={"yt" + t}>
            <line x1={L} x2={L + 5} y1={Math.round(y(t)) + 0.5} y2={Math.round(y(t)) + 0.5} />
            <line x1={R} x2={R - 5} y1={Math.round(y(t)) + 0.5} y2={Math.round(y(t)) + 0.5} />
          </g>
        ))}
      </g>
      <g fontFamily={FONT} fontSize={11} fill="#000">
        {xTicks.map((t) => (
          <text key={"xl" + t} x={x(t)} y={462} textAnchor="middle">{t}</text>
        ))}
        {yTicks.map((t) => (
          <text key={"yl" + t} x={44} y={y(t) + 4} textAnchor="end">{t}</text>
        ))}
        <text x={336} y={19} textAnchor="middle">{title}</text>
        <text x={336} y={477} textAnchor="middle">{xLabel}</text>
        <text transform={`translate(15,${(T + B) / 2}) rotate(-90)`} textAnchor="middle">{yLabel}</text>
      </g>
    </svg>
  );
}
